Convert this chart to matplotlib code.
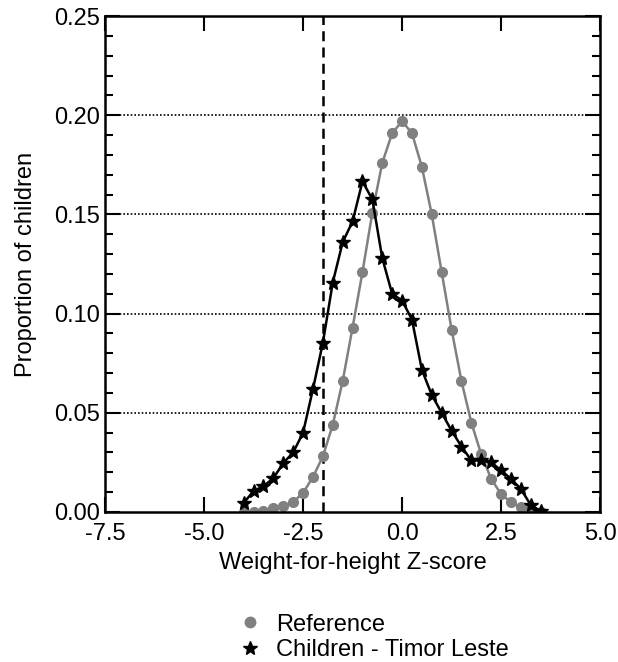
import matplotlib
matplotlib.use("Agg")
import matplotlib.pyplot as plt
from matplotlib.lines import Line2D
from matplotlib.ticker import MultipleLocator

plt.rcParams['font.family'] = ['Liberation Sans', 'DejaVu Sans']

# Z-score grid (0.25 steps)
z_ref = [-4.0, -3.75, -3.5, -3.25, -3.0, -2.75, -2.5, -2.25, -2.0, -1.75, -1.5,
         -1.25, -1.0, -0.75, -0.5, -0.25, 0.0, 0.25, 0.5, 0.75, 1.0, 1.25, 1.5,
         1.75, 2.0, 2.25, 2.5, 2.75, 3.0, 3.25, 3.5]
p_ref = [0.000, 0.000, 0.0005, 0.002, 0.003, 0.005, 0.0096, 0.0177, 0.028, 0.044,
         0.066, 0.093, 0.121, 0.151, 0.176, 0.191, 0.197, 0.191, 0.174, 0.150,
         0.121, 0.092, 0.066, 0.045, 0.029, 0.0167, 0.009, 0.005, 0.0025, 0.001, 0.000]

z_tl = z_ref
p_tl = [0.0045, 0.0106, 0.013, 0.017, 0.0247, 0.030, 0.040, 0.062, 0.0853, 0.1157,
        0.136, 0.1465, 0.1667, 0.1576, 0.128, 0.110, 0.1066, 0.097, 0.0717, 0.059,
        0.050, 0.041, 0.033, 0.026, 0.026, 0.025, 0.021, 0.0167, 0.0116, 0.0035, 0.0005]

FS = 17

fig = plt.figure(figsize=(6.18, 6.62), dpi=100)
ax = fig.add_axes([0.170, 0.2266, 0.801, 0.749])

for yy in [0.05, 0.10, 0.15, 0.20]:
    ax.axhline(yy, color='black', lw=1.2, ls=(0, (1, 1.2)), zorder=1)
ax.axvline(-2.0, color='black', lw=1.8, ls=(0, (4, 2.5)), zorder=1)

ax.plot(z_ref, p_ref, color='#808080', lw=1.8, marker='o', ms=7,
        mec='#808080', mfc='#808080', zorder=2)
ax.plot(z_tl, p_tl, color='black', lw=1.8, marker='*', ms=10, zorder=3)

ax.set_xlim(-7.5, 5.0)
ax.set_ylim(0, 0.25)
ax.set_xticks([-7.5, -5.0, -2.5, 0.0, 2.5, 5.0])
ax.set_xticklabels(['-7.5', '-5.0', '-2.5', '0.0', '2.5', '5.0'])
ax.set_yticks([0.0, 0.05, 0.10, 0.15, 0.20, 0.25])
ax.set_yticklabels(['0.00', '0.05', '0.10', '0.15', '0.20', '0.25'])
ax.yaxis.set_minor_locator(MultipleLocator(0.01))
ax.tick_params(which='major', direction='in', length=11, width=1.5,
               top=True, right=True, labelsize=FS)
ax.tick_params(axis='x', which='major', pad=8)
ax.tick_params(axis='y', which='major', pad=4)
ax.tick_params(which='minor', direction='in', length=6, width=1.5, right=True)
for s in ax.spines.values():
    s.set_linewidth(1.8)

ax.set_xlabel('Weight-for-height Z-score', fontsize=FS, labelpad=5)
ax.set_ylabel('Proportion of children', fontsize=FS, labelpad=12)

handles = [Line2D([], [], ls='none', marker='o', color='#808080', ms=7.5),
           Line2D([], [], ls='none', marker='*', color='black', ms=10)]
fig.legend(handles, ['Reference', 'Children - Timor Leste'], loc='lower left',
           bbox_to_anchor=(0.362, -0.02), frameon=False, fontsize=FS,
           handlelength=1.0, handletextpad=0.63, labelspacing=0.15,
           borderpad=0.1)

fig.savefig('out.png', dpi=100)
